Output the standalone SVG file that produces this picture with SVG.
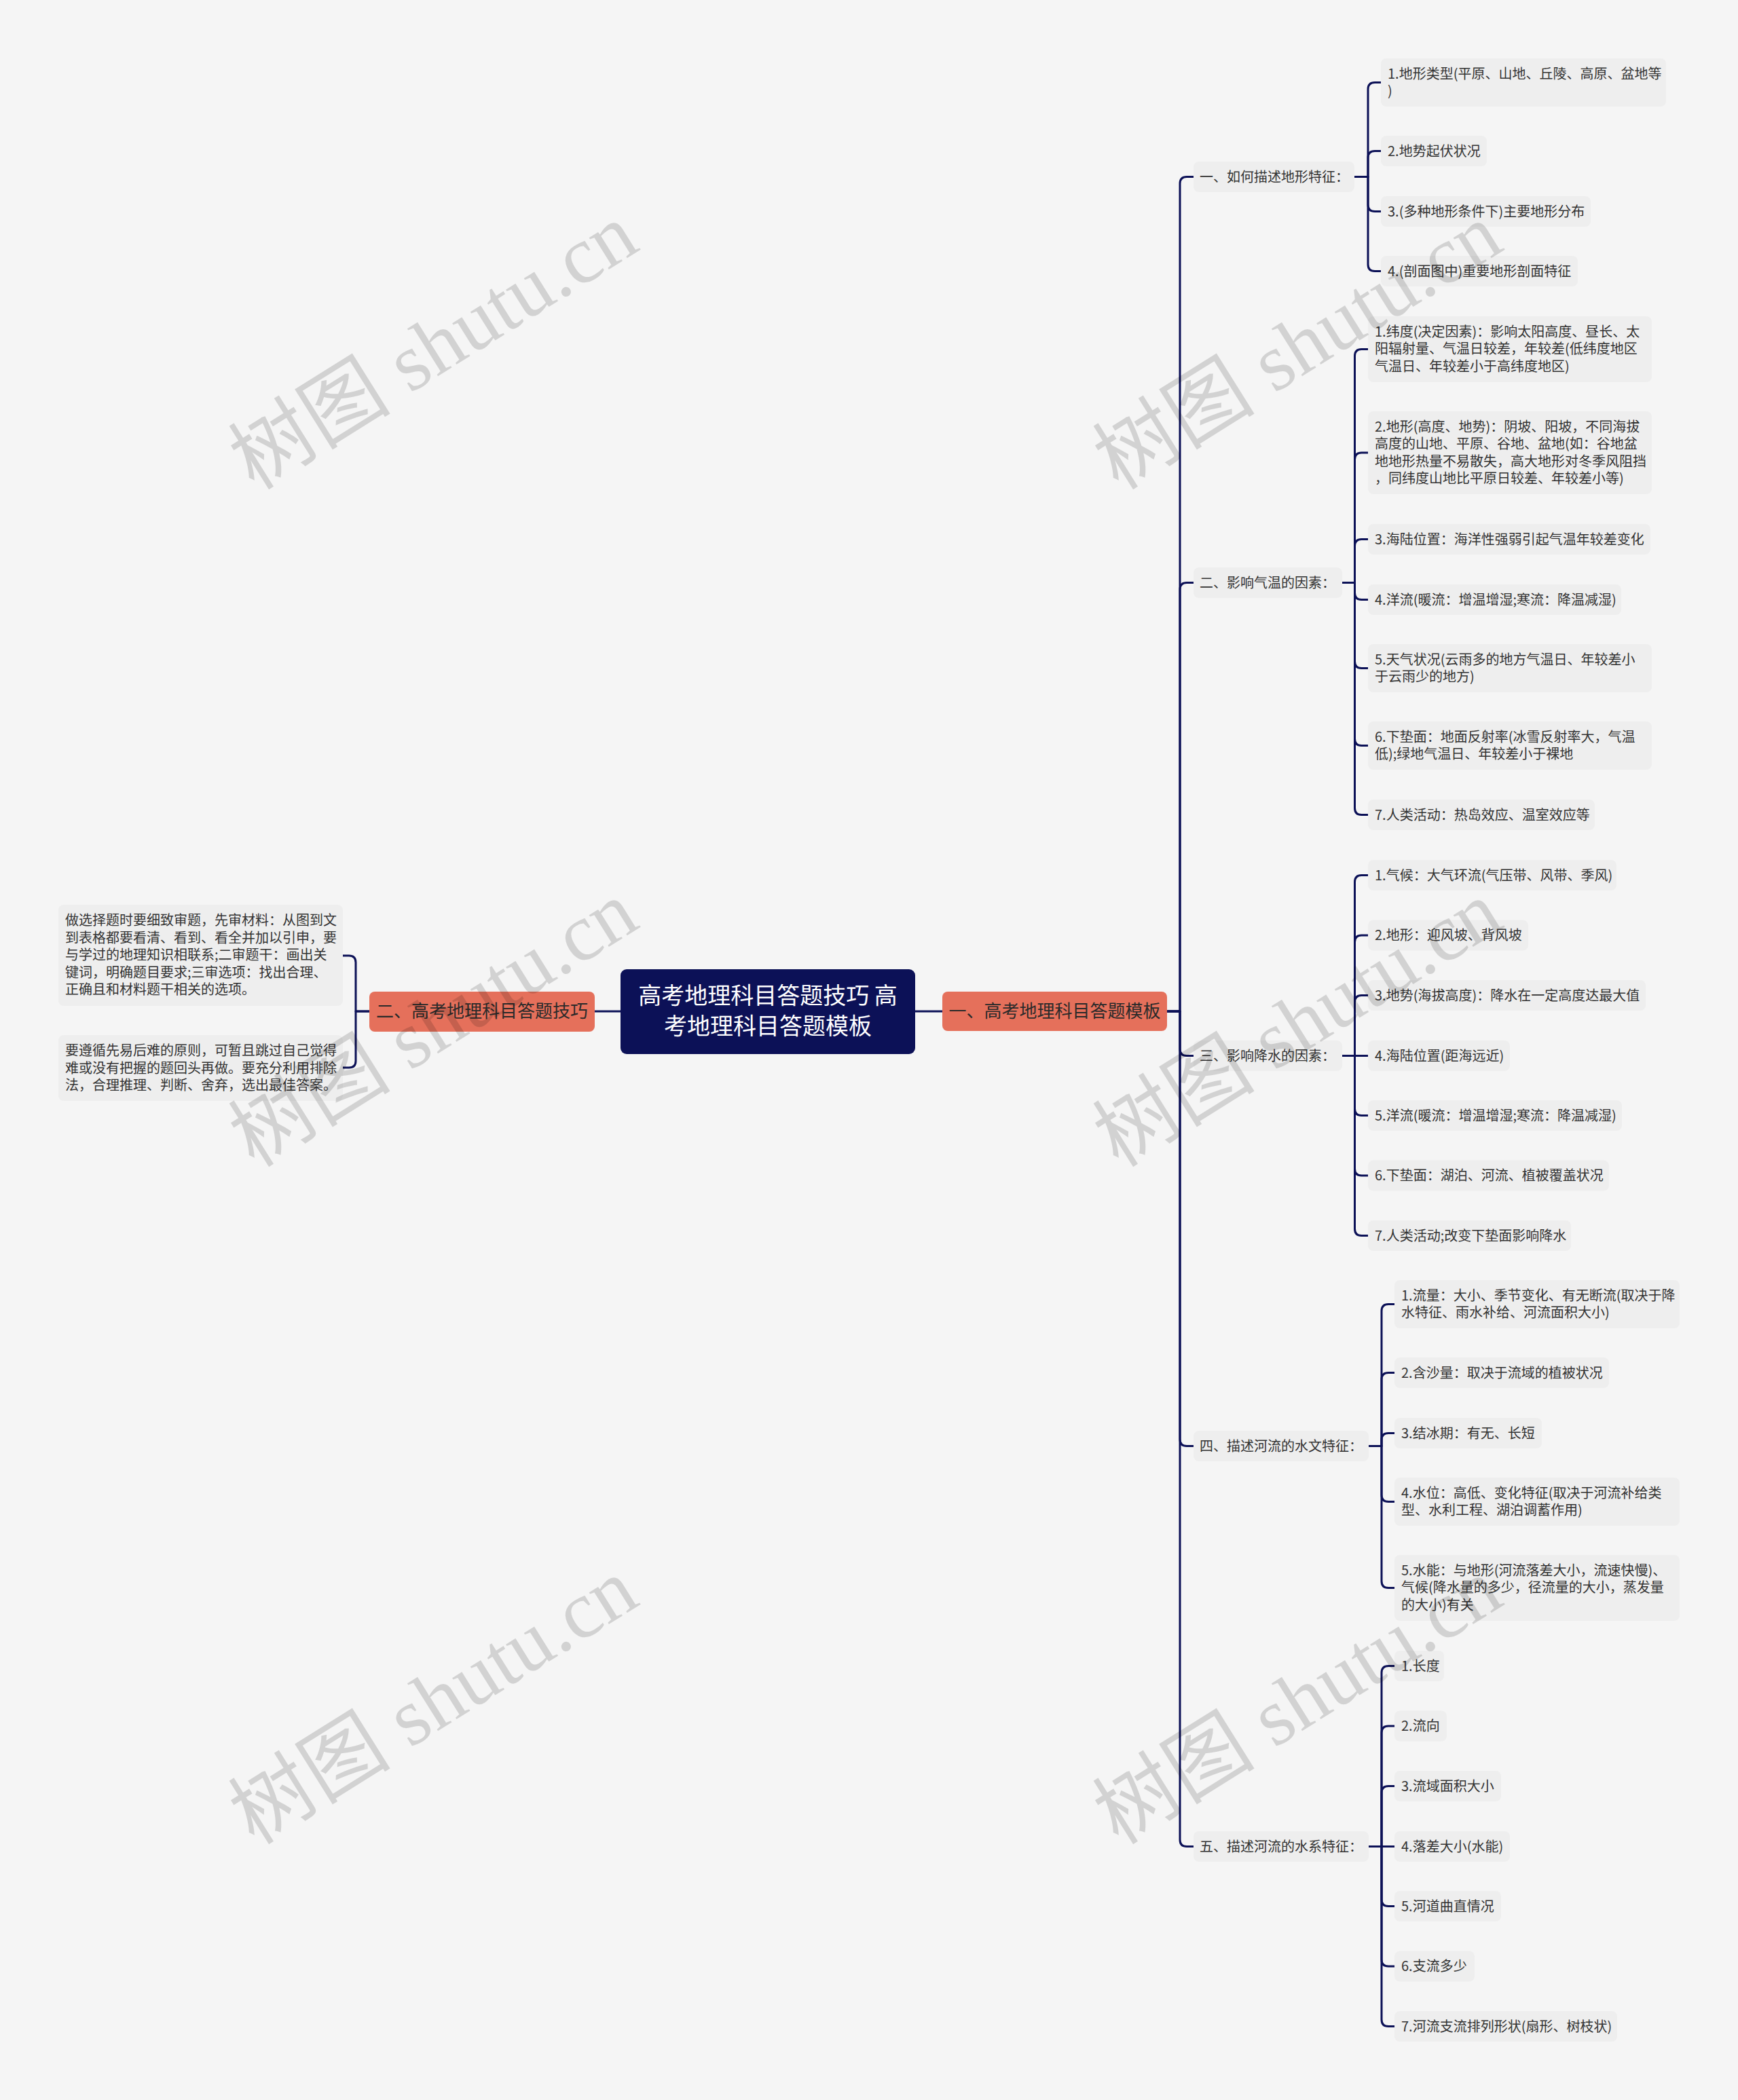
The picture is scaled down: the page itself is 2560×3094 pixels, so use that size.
<svg xmlns="http://www.w3.org/2000/svg" width="2560" height="3094" viewBox="0 0 2560 3094">
<style>
.t{font-family:"Noto Sans CJK SC","Noto Sans",sans-serif;font-size:20px;fill:#333}
.box{fill:#eeeeee}
.l1{fill:#e5705b}
.l1t{font-family:"Noto Sans CJK SC","Noto Sans",sans-serif;font-size:26px;fill:#2a2a2a;text-anchor:middle}
.ct{font-family:"Noto Sans CJK SC","Noto Sans",sans-serif;font-size:34px;fill:#ffffff;text-anchor:middle}
.c{fill:none;stroke:#0c1157;stroke-width:3;stroke-linecap:round;stroke-linejoin:round}
.wm{font-family:"Liberation Serif","Noto Sans CJK SC",serif;font-size:120px;fill:#000;fill-opacity:.14;text-anchor:middle}
</style>
<rect width="2560" height="3094" fill="#f5f5f5"/>
<g id="connectors">
<path class="c" d="M914,1490 H876"/>
<path class="c" d="M1348,1490 H1388"/>
<path class="c" d="M544,1490 H524 V1418 Q524,1408 514,1408 H505"/>
<path class="c" d="M544,1490 H524 V1563 Q524,1573 514,1573 H505"/>
<path class="c" d="M1719,1490 H1738 V270.5 Q1738,260.5 1748,260.5 H1758"/>
<path class="c" d="M1719,1490 H1738 V868.5 Q1738,858.5 1748,858.5 H1758"/>
<path class="c" d="M1719,1490 H1738 V1545.5 Q1738,1555.5 1748,1555.5 H1758"/>
<path class="c" d="M1719,1490 H1738 V2120.5 Q1738,2130.5 1748,2130.5 H1758"/>
<path class="c" d="M1719,1490 H1738 V2710.5 Q1738,2720.5 1748,2720.5 H1758"/>
<path class="c" d="M1995,260.5 H2015 V131.5 Q2015,121.5 2025,121.5 H2034"/>
<path class="c" d="M1995,260.5 H2015 V232.5 Q2015,222.5 2025,222.5 H2034"/>
<path class="c" d="M1995,260.5 H2015 V301.5 Q2015,311.5 2025,311.5 H2034"/>
<path class="c" d="M1995,260.5 H2015 V389.5 Q2015,399.5 2025,399.5 H2034"/>
<path class="c" d="M1977,858.5 H1995.5 V524.5 Q1995.5,514.5 2005.5,514.5 H2015"/>
<path class="c" d="M1977,858.5 H1995.5 V677 Q1995.5,667 2005.5,667 H2015"/>
<path class="c" d="M1977,858.5 H1995.5 V804.5 Q1995.5,794.5 2005.5,794.5 H2015"/>
<path class="c" d="M1977,858.5 H1995.5 V873.5 Q1995.5,883.5 2005.5,883.5 H2015"/>
<path class="c" d="M1977,858.5 H1995.5 V974.5 Q1995.5,984.5 2005.5,984.5 H2015"/>
<path class="c" d="M1977,858.5 H1995.5 V1088.5 Q1995.5,1098.5 2005.5,1098.5 H2015"/>
<path class="c" d="M1977,858.5 H1995.5 V1190.5 Q1995.5,1200.5 2005.5,1200.5 H2015"/>
<path class="c" d="M1977,1555.5 H1995.5 V1299.5 Q1995.5,1289.5 2005.5,1289.5 H2015"/>
<path class="c" d="M1977,1555.5 H1995.5 V1388 Q1995.5,1378 2005.5,1378 H2015"/>
<path class="c" d="M1977,1555.5 H1995.5 V1476.5 Q1995.5,1466.5 2005.5,1466.5 H2015"/>
<path class="c" d="M1977,1555.5 H2015"/>
<path class="c" d="M1977,1555.5 H1995.5 V1633.5 Q1995.5,1643.5 2005.5,1643.5 H2015"/>
<path class="c" d="M1977,1555.5 H1995.5 V1722 Q1995.5,1732 2005.5,1732 H2015"/>
<path class="c" d="M1977,1555.5 H1995.5 V1810.5 Q1995.5,1820.5 2005.5,1820.5 H2015"/>
<path class="c" d="M2016,2130.5 H2035 V1931.5 Q2035,1921.5 2045,1921.5 H2054"/>
<path class="c" d="M2016,2130.5 H2035 V2032.5 Q2035,2022.5 2045,2022.5 H2054"/>
<path class="c" d="M2016,2130.5 H2035 V2121.5 Q2035,2111.5 2045,2111.5 H2054"/>
<path class="c" d="M2016,2130.5 H2035 V2202.5 Q2035,2212.5 2045,2212.5 H2054"/>
<path class="c" d="M2016,2130.5 H2035 V2329.5 Q2035,2339.5 2045,2339.5 H2054"/>
<path class="c" d="M2016,2720.5 H2035 V2464.5 Q2035,2454.5 2045,2454.5 H2054"/>
<path class="c" d="M2016,2720.5 H2035 V2553 Q2035,2543 2045,2543 H2054"/>
<path class="c" d="M2016,2720.5 H2035 V2641.5 Q2035,2631.5 2045,2631.5 H2054"/>
<path class="c" d="M2016,2720.5 H2054"/>
<path class="c" d="M2016,2720.5 H2035 V2798.5 Q2035,2808.5 2045,2808.5 H2054"/>
<path class="c" d="M2016,2720.5 H2035 V2887 Q2035,2897 2045,2897 H2054"/>
<path class="c" d="M2016,2720.5 H2035 V2975.5 Q2035,2985.5 2045,2985.5 H2054"/>
</g>
<g id="root"><rect x="914" y="1428" width="434" height="125" rx="9" fill="#0c1157"/><text class="ct" x="1131" y="1479">高考地理科目答题技巧 高</text><text class="ct" x="1131" y="1524">考地理科目答题模板</text></g>
<g id="b1"><rect class="l1" x="1388" y="1461" width="331" height="58" rx="8"/><text class="l1t" x="1553.5" y="1499">一、高考地理科目答题模板</text></g>
<g id="b2"><rect class="l1" x="544" y="1461" width="332" height="59" rx="8"/><text class="l1t" x="710" y="1499">二、高考地理科目答题技巧</text></g>
<g id="b2-1"><rect class="box" x="86" y="1333" width="419" height="149" rx="8"/><text class="t" x="96" y="1363"><tspan x="96">做选择题时要细致审题，先审材料：从图到文</tspan><tspan x="96" dy="25.6">到表格都要看清、看到、看全并加以引申，要</tspan><tspan x="96" dy="25.6">与学过的地理知识相联系;二审题干：画出关</tspan><tspan x="96" dy="25.6">键词，明确题目要求;三审选项：找出合理、</tspan><tspan x="96" dy="25.6">正确且和材料题干相关的选项。</tspan></text></g>
<g id="b2-2"><rect class="box" x="86" y="1525" width="419" height="97" rx="8"/><text class="t" x="96" y="1555"><tspan x="96">要遵循先易后难的原则，可暂且跳过自己觉得</tspan><tspan x="96" dy="25.6">难或没有把握的题回头再做。要充分利用排除</tspan><tspan x="96" dy="25.6">法，合理推理、判断、舍弃，选出最佳答案。</tspan></text></g>
<g id="s1"><rect class="box" x="1758" y="238" width="237" height="45" rx="8"/><text class="t" x="1767" y="267.5">一、如何描述地形特征：</text></g>
<g id="s1-1"><rect class="box" x="2034" y="86" width="420" height="71" rx="8"/><text class="t" x="2044" y="115.5"><tspan x="2044">1.地形类型(平原、山地、丘陵、高原、盆地等</tspan><tspan x="2044" dy="25.6">)</tspan></text></g>
<g id="s1-2"><rect class="box" x="2034" y="200" width="156" height="45" rx="8"/><text class="t" x="2044" y="229.5">2.地势起伏状况</text></g>
<g id="s1-3"><rect class="box" x="2034" y="289" width="309" height="45" rx="8"/><text class="t" x="2044" y="318.5">3.(多种地形条件下)主要地形分布</text></g>
<g id="s1-4"><rect class="box" x="2034" y="377" width="290" height="45" rx="8"/><text class="t" x="2044" y="406.5">4.(剖面图中)重要地形剖面特征</text></g>
<g id="s2"><rect class="box" x="1758" y="836" width="219" height="45" rx="8"/><text class="t" x="1767" y="865.5">二、影响气温的因素：</text></g>
<g id="s2-1"><rect class="box" x="2015" y="466" width="418" height="97" rx="8"/><text class="t" x="2025" y="495.5"><tspan x="2025">1.纬度(决定因素)：影响太阳高度、昼长、太</tspan><tspan x="2025" dy="25.6">阳辐射量、气温日较差，年较差(低纬度地区</tspan><tspan x="2025" dy="25.6">气温日、年较差小于高纬度地区)</tspan></text></g>
<g id="s2-2"><rect class="box" x="2015" y="606" width="418" height="122" rx="8"/><text class="t" x="2025" y="635.5"><tspan x="2025">2.地形(高度、地势)：阴坡、阳坡，不同海拔</tspan><tspan x="2025" dy="25.6">高度的山地、平原、谷地、盆地(如：谷地盆</tspan><tspan x="2025" dy="25.6">地地形热量不易散失，高大地形对冬季风阻挡</tspan><tspan x="2025" dy="25.6">，同纬度山地比平原日较差、年较差小等)</tspan></text></g>
<g id="s2-3"><rect class="box" x="2015" y="772" width="416" height="45" rx="8"/><text class="t" x="2025" y="801.5">3.海陆位置：海洋性强弱引起气温年较差变化</text></g>
<g id="s2-4"><rect class="box" x="2015" y="861" width="373" height="45" rx="8"/><text class="t" x="2025" y="890.5">4.洋流(暖流：增温增湿;寒流：降温减湿)</text></g>
<g id="s2-5"><rect class="box" x="2015" y="949" width="418" height="71" rx="8"/><text class="t" x="2025" y="978.5"><tspan x="2025">5.天气状况(云雨多的地方气温日、年较差小</tspan><tspan x="2025" dy="25.6">于云雨少的地方)</tspan></text></g>
<g id="s2-6"><rect class="box" x="2015" y="1063" width="418" height="71" rx="8"/><text class="t" x="2025" y="1092.5"><tspan x="2025">6.下垫面：地面反射率(冰雪反射率大，气温</tspan><tspan x="2025" dy="25.6">低);绿地气温日、年较差小于裸地</tspan></text></g>
<g id="s2-7"><rect class="box" x="2015" y="1178" width="334" height="45" rx="8"/><text class="t" x="2025" y="1207.5">7.人类活动：热岛效应、温室效应等</text></g>
<g id="s3"><rect class="box" x="1758" y="1533" width="219" height="45" rx="8"/><text class="t" x="1767" y="1562.5">三、影响降水的因素：</text></g>
<g id="s3-1"><rect class="box" x="2015" y="1267" width="366" height="45" rx="8"/><text class="t" x="2025" y="1296.5">1.气候：大气环流(气压带、风带、季风)</text></g>
<g id="s3-2"><rect class="box" x="2015" y="1355.5" width="236" height="45" rx="8"/><text class="t" x="2025" y="1385">2.地形：迎风坡、背风坡</text></g>
<g id="s3-3"><rect class="box" x="2015" y="1444" width="409" height="45" rx="8"/><text class="t" x="2025" y="1473.5">3.地势(海拔高度)：降水在一定高度达最大值</text></g>
<g id="s3-4"><rect class="box" x="2015" y="1533" width="209" height="45" rx="8"/><text class="t" x="2025" y="1562.5">4.海陆位置(距海远近)</text></g>
<g id="s3-5"><rect class="box" x="2015" y="1621" width="374" height="45" rx="8"/><text class="t" x="2025" y="1650.5">5.洋流(暖流：增温增湿;寒流：降温减湿)</text></g>
<g id="s3-6"><rect class="box" x="2015" y="1709.5" width="355" height="45" rx="8"/><text class="t" x="2025" y="1739">6.下垫面：湖泊、河流、植被覆盖状况</text></g>
<g id="s3-7"><rect class="box" x="2015" y="1798" width="299" height="45" rx="8"/><text class="t" x="2025" y="1827.5">7.人类活动;改变下垫面影响降水</text></g>
<g id="s4"><rect class="box" x="1758" y="2108" width="258" height="45" rx="8"/><text class="t" x="1767" y="2137.5">四、描述河流的水文特征：</text></g>
<g id="s4-1"><rect class="box" x="2054" y="1886" width="420" height="71" rx="8"/><text class="t" x="2064" y="1915.5"><tspan x="2064">1.流量：大小、季节变化、有无断流(取决于降</tspan><tspan x="2064" dy="25.6">水特征、雨水补给、河流面积大小)</tspan></text></g>
<g id="s4-2"><rect class="box" x="2054" y="2000" width="316" height="45" rx="8"/><text class="t" x="2064" y="2029.5">2.含沙量：取决于流域的植被状况</text></g>
<g id="s4-3"><rect class="box" x="2054" y="2089" width="217" height="45" rx="8"/><text class="t" x="2064" y="2118.5">3.结冰期：有无、长短</text></g>
<g id="s4-4"><rect class="box" x="2054" y="2177" width="420" height="71" rx="8"/><text class="t" x="2064" y="2206.5"><tspan x="2064">4.水位：高低、变化特征(取决于河流补给类</tspan><tspan x="2064" dy="25.6">型、水利工程、湖泊调蓄作用)</tspan></text></g>
<g id="s4-5"><rect class="box" x="2054" y="2291" width="420" height="97" rx="8"/><text class="t" x="2064" y="2320.5"><tspan x="2064">5.水能：与地形(河流落差大小，流速快慢)、</tspan><tspan x="2064" dy="25.6">气候(降水量的多少，径流量的大小，蒸发量</tspan><tspan x="2064" dy="25.6">的大小)有关</tspan></text></g>
<g id="s5"><rect class="box" x="1758" y="2698" width="258" height="45" rx="8"/><text class="t" x="1767" y="2727.5">五、描述河流的水系特征：</text></g>
<g id="s5-1"><rect class="box" x="2054" y="2432" width="73" height="45" rx="8"/><text class="t" x="2064" y="2461.5">1.长度</text></g>
<g id="s5-2"><rect class="box" x="2054" y="2520.5" width="77" height="45" rx="8"/><text class="t" x="2064" y="2550">2.流向</text></g>
<g id="s5-3"><rect class="box" x="2054" y="2609" width="157" height="45" rx="8"/><text class="t" x="2064" y="2638.5">3.流域面积大小</text></g>
<g id="s5-4"><rect class="box" x="2054" y="2698" width="170" height="45" rx="8"/><text class="t" x="2064" y="2727.5">4.落差大小(水能)</text></g>
<g id="s5-5"><rect class="box" x="2054" y="2786" width="157" height="45" rx="8"/><text class="t" x="2064" y="2815.5">5.河道曲直情况</text></g>
<g id="s5-6"><rect class="box" x="2054" y="2874.5" width="118" height="45" rx="8"/><text class="t" x="2064" y="2904">6.支流多少</text></g>
<g id="s5-7"><rect class="box" x="2054" y="2963" width="328" height="45" rx="8"/><text class="t" x="2064" y="2992.5">7.河流支流排列形状(扇形、树枝状)</text></g>
<g id="watermarks">
<text class="wm" transform="translate(660,545) rotate(-32)">树图 shutu.cn</text>
<text class="wm" transform="translate(1933,545) rotate(-32)">树图 shutu.cn</text>
<text class="wm" transform="translate(660,1543) rotate(-32)">树图 shutu.cn</text>
<text class="wm" transform="translate(1933,1543) rotate(-32)">树图 shutu.cn</text>
<text class="wm" transform="translate(660,2541) rotate(-32)">树图 shutu.cn</text>
<text class="wm" transform="translate(1933,2541) rotate(-32)">树图 shutu.cn</text>
</g>
</svg>
